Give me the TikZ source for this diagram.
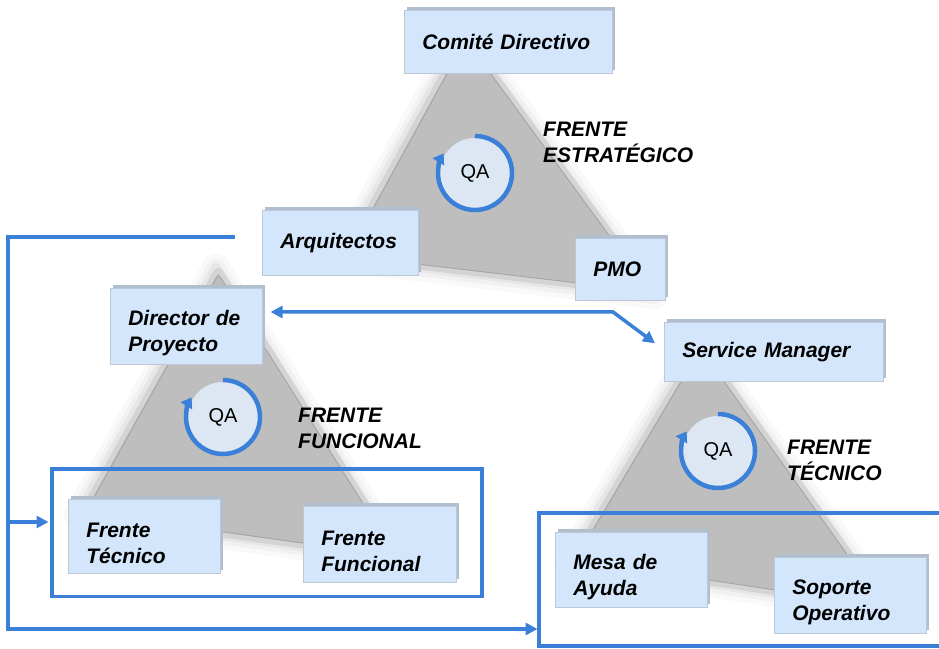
\documentclass[tikz,border=0pt]{standalone}
\usepackage{fontspec}
\setmainfont{Liberation Sans}
\usetikzlibrary{arrows.meta,shadows,calc}
\definecolor{boxblue}{RGB}{212,230,252}
\definecolor{boxline}{RGB}{188,200,214}
\definecolor{bevel}{RGB}{176,190,206}
\definecolor{qafill}{RGB}{221,231,244}
\definecolor{conblue}{RGB}{58,128,216}
\definecolor{trigray}{RGB}{190,190,190}
\definecolor{tririm}{RGB}{212,212,212}
\definecolor{triedge}{RGB}{165,165,165}
\tikzset{
  box/.style={rectangle, fill=boxblue, draw=boxline, line width=0.6pt,
    inner xsep=18pt, inner ysep=0pt, align=left, anchor=north west,
    font=\bfseries\itshape\fontsize{21}{26}\selectfont,
    copy shadow={shadow xshift=3pt, shadow yshift=3pt, fill=bevel, draw=none}},
  twoline/.style={execute at begin node={\rule{0pt}{29pt}}},
  lbl/.style={anchor=west, inner sep=0pt, align=left,
    font=\bfseries\itshape\fontsize{21}{26}\selectfont},
  qa/.style={circle, fill=qafill, minimum size=70pt, inner sep=0pt,
    font=\fontsize{20}{24}\selectfont},
  conn/.style={draw=conblue, line width=3.5pt},
  tip/.style={-{Triangle[length=12pt,width=12pt]}},
  frame/.style={rectangle, draw=conblue, line width=3.5pt, inner sep=0pt, anchor=south west},
}
\newcommand\drawtri[4]{%
  \foreach \w/\o in {28/0.022,18/0.03,10/0.045}
    \draw[line width=\w pt, black, opacity=\o, line join=round, xshift=-2pt] #1 -- #2 -- #3 -- cycle;
  \draw[fill=trigray, draw=tririm, line width=5pt, line join=round, rounded corners=4pt] #1 -- #2 -- #3 -- cycle;
  \draw[triedge, line width=0.9pt, rounded corners=4pt, scale around={0.965:#4}] #1 -- #2 -- #3 -- cycle;
}
\newcommand\qaring[2]{%
  \node[qa] (#1) at #2 {QA};
  \draw[conn, line width=4.5pt, -{Triangle[length=10pt,width=13pt]}]
    ([shift={(90:37pt)}]#1.center) arc[start angle=90, end angle=-212, radius=37pt];
}
\begin{document}
\begin{tikzpicture}[x=1pt,y=1pt]
\useasboundingbox (0,0) rectangle (939,648);
\fill[white] (0,0) rectangle (939,648);

% triangles
\drawtri{(465,614)}{(342,390)}{(656,353)}{(487.7,452.3)}
\drawtri{(218,380)}{(80,133)}{(402,88)}{(233.3,200.3)}
\drawtri{(700,305)}{(570,86)}{(890,38)}{(720,143)}

% frames
\node[frame, minimum width=430pt, minimum height=127pt] (lf) at (50,50) {};
\coordinate (rfa) at (939,135);
\coordinate (rfb) at (539,135);
\coordinate (rfc) at (539,2);
\coordinate (rfd) at (939,2);
\draw[conn] (rfa) -- (rfb) -- (rfc) -- (rfd);

% boxes
\node[box, text width=172pt, minimum height=63pt] (cd) at (404,638) {Comité Directivo};
\node[box, text width=120pt, minimum height=65pt] (arq) at (262,438) {Arquitectos};
\node[box, text width=54pt, minimum height=62pt] (pmo) at (575,410) {PMO};
\node[box, twoline, text width=116pt, minimum height=76pt] (dir) at (110,360) {Director de\\Proyecto};
\node[box, twoline, text width=116pt, minimum height=74pt] (ft) at (68,149) {Frente\\Técnico};
\node[box, twoline, text width=117pt, minimum height=76pt] (ff) at (303,142) {Frente\\Funcional};
\node[box, text width=183pt, minimum height=59pt] (sm) at (664,326) {Service Manager};
\node[box, twoline, text width=116pt, minimum height=75pt] (mesa) at (555,116) {Mesa de\\Ayuda};
\node[box, twoline, text width=116pt, minimum height=76pt] (sop) at (774,91) {Soporte\\Operativo};

% QA rings
\qaring{qa1}{(475,475)}
\qaring{qa2}{(223,231)}
\qaring{qa3}{(718,197)}

% labels
\node[lbl] (l1) at (543,505.5) {FRENTE\\ESTRATÉGICO};
\node[lbl] (l2) at (298,219.5) {FRENTE\\FUNCIONAL};
\node[lbl] (l3) at (787,187.5) {FRENTE\\TÉCNICO};

% connectors
\coordinate (lfree) at (235,411);
\coordinate (lc1) at (8,411);
\coordinate (lc2) at (8,19);
\coordinate (lbr) at (8,126);
\draw[conn, tip] (lfree) -- (lc1) -- (lc2) -- ([xshift=-1.5pt]rfb |- lc2);
\draw[conn, tip] (lbr) -- ([xshift=-1.5pt]lf.west |- lbr);
\coordinate (db) at (613,336);
\draw[conn, {Triangle[length=12pt,width=12pt]}-{Triangle[length=12pt,width=12pt]}]
  ([xshift=8pt]dir.east |- db) -- (db) -- ([xshift=-9pt,yshift=8.5pt]sm.west);
\end{tikzpicture}
\end{document}
